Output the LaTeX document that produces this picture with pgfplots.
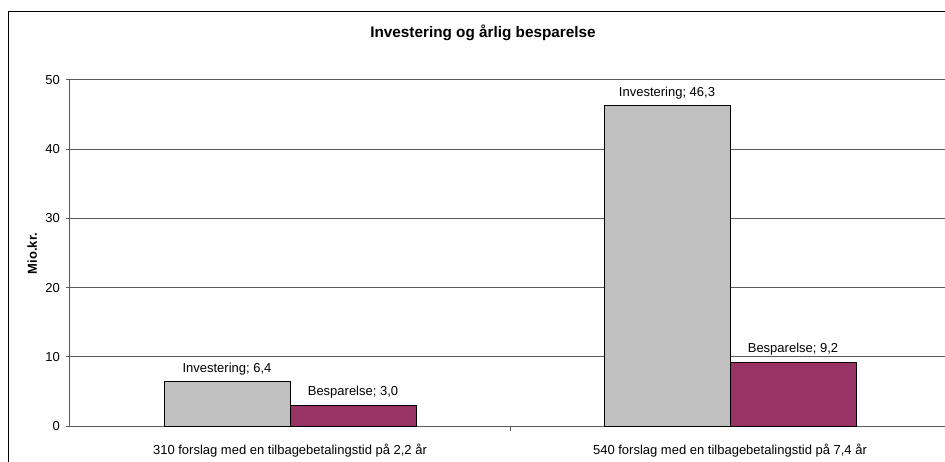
\documentclass[border=0pt]{standalone}
\usepackage{pgfplots}
\pgfplotsset{compat=1.18}
\usepackage{fontspec}
\setmainfont{Liberation Sans}
\definecolor{barGray}{HTML}{C0C0C0}
\definecolor{barPurple}{HTML}{993366}
\definecolor{gridc}{HTML}{5A5A5A}
\begin{document}
\fontsize{13}{15}\selectfont
\begin{tikzpicture}[x=1pt,y=1pt]
\useasboundingbox (-70,-35) rectangle (875,426);
\draw[black, line width=1pt] (-61.5,-40) -- (-61.5,414.5) -- (880,414.5);
\node[font=\bfseries\fontsize{15.3}{17}\selectfont, anchor=base] at (413,388) {Investering og årlig besparelse};
\node[font=\bfseries\fontsize{13}{15}\selectfont, rotate=90, anchor=base] at (-33,172.5) {Mio.kr.};
\begin{axis}[
  at={(0,0)}, anchor=south west, scale only axis,
  x=440pt, y=6.92pt,
  xmin=-0.5, xmax=1.489, ymin=0, ymax=50,
  axis x line=bottom, axis y line=left,
  axis line style={-, draw=gridc, line width=1pt},
  ytick={0,10,20,30,40,50},
  ymajorgrids, grid style={draw=gridc, line width=1pt},
  tick align=outside, major tick length=4pt,
  ytick style={draw=gridc, line width=1pt},
  xtick={0,1},
  xticklabels={310 forslag med en tilbagebetalingstid på 2{,}2 år, 540 forslag med en tilbagebetalingstid på 7{,}4 år},
  xtick style={draw=none},
  extra x ticks={0.5}, extra x tick labels={},
  extra x tick style={xtick style={draw=gridc, line width=1pt}, major tick length=5pt},
  /pgf/number format/assume math mode=true,
  yticklabel style={anchor=east, inner sep=0pt, xshift=-6pt, font=\fontsize{13}{15}\selectfont},
  xticklabel style={anchor=base, inner sep=0pt, yshift=-24pt, font=\fontsize{13}{15}\selectfont},
  clip=false,
  nodes near coords style={anchor=base, inner sep=0pt, yshift=9.5pt, text=black, font=\fontsize{13}{15}\selectfont},
]
\addplot[ybar, bar width=126pt, bar shift=-63pt, fill=barGray, draw=black, line width=0.8pt,
  point meta=y,
  nodes near coords={Investering; \pgfmathprintnumber[fixed, fixed zerofill, precision=1, use comma, assume math mode=true]{\pgfplotspointmeta}},
  every node near coord/.append style={xshift=-63pt}]
  coordinates {(0,6.4) (1,46.3)};
\addplot[ybar, bar width=126pt, bar shift=63pt, fill=barPurple, draw=black, line width=0.8pt,
  point meta=y,
  nodes near coords={Besparelse; \pgfmathprintnumber[fixed, fixed zerofill, precision=1, use comma, assume math mode=true]{\pgfplotspointmeta}},
  every node near coord/.append style={xshift=63pt}]
  coordinates {(0,3.0) (1,9.2)};
\end{axis}
\end{tikzpicture}
\end{document}
